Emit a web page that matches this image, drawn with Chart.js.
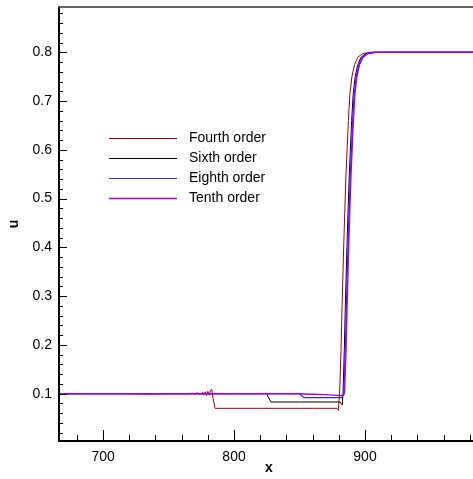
<!DOCTYPE html>
<html>
<head>
<meta charset="utf-8">
<script src="https://cdn.jsdelivr.net/npm/chart.js@4.4.0/dist/chart.umd.min.js"></script>
<style>
  html, body { margin: 0; padding: 0; background: #fff; overflow: hidden; }
  #wrap { width: 473px; height: 479px; overflow: hidden; }
</style>
</head>
<body>
<div id="wrap"><canvas id="uChart" width="480" height="479"></canvas></div>
<script>
// values
const seriesNames = ['Fourth order', 'Sixth order', 'Eighth order', 'Tenth order'];

const fourthX = [665, 700, 740, 765, 768, 770, 772, 774, 776, 777, 778, 779, 780, 781, 782, 783, 784, 785.5, 820, 860, 878.5, 879.6, 880.6, 881.7, 882.5, 883.5, 884.5, 885.5, 886.5, 887.3, 888.5, 890, 892, 894.5, 898, 904, 930, 990];
const fourthU = [0.1, 0.1, 0.1, 0.1, 0.101, 0.099, 0.102, 0.098, 0.103, 0.097, 0.104, 0.096, 0.105, 0.097, 0.106, 0.109, 0.09, 0.07, 0.07, 0.07, 0.07, 0.066, 0.1, 0.19, 0.28, 0.38, 0.47, 0.55, 0.61, 0.66, 0.715, 0.75, 0.775, 0.79, 0.797, 0.8, 0.8, 0.8];

const sixthX = [665, 720, 760, 800, 822, 824.5, 826, 828.2, 850, 881, 882.6, 883.2, 884.2, 885, 886, 887, 888, 889, 889.8, 891, 892.5, 894.5, 897, 900.5, 906, 930, 990];
const sixthU = [0.1, 0.1, 0.1, 0.1, 0.1, 0.101, 0.094, 0.083, 0.083, 0.083, 0.077, 0.1, 0.19, 0.28, 0.38, 0.47, 0.55, 0.61, 0.66, 0.715, 0.75, 0.775, 0.79, 0.797, 0.8, 0.8, 0.8];

const eighthX = [665, 720, 760, 800, 840, 849.8, 853.4, 870, 882.4, 883.8, 885, 885.8, 886.8, 887.8, 888.8, 889.8, 890.6, 891.8, 893.3, 895.3, 898, 901.5, 907, 930, 990];
const eighthU = [0.1, 0.1, 0.1, 0.1, 0.1, 0.1, 0.092, 0.092, 0.092, 0.1, 0.19, 0.28, 0.38, 0.47, 0.55, 0.61, 0.66, 0.715, 0.75, 0.775, 0.79, 0.797, 0.8, 0.8, 0.8];

const tenthX = [665, 720, 735, 750, 800, 850, 860, 870, 882, 884.3, 885.5, 886.3, 887.3, 888.3, 889.3, 890.3, 891.1, 892.3, 893.8, 895.8, 898.5, 902, 908, 930, 990];
const tenthU = [0.1, 0.1, 0.0995, 0.1, 0.1, 0.1, 0.099, 0.098, 0.096, 0.1, 0.19, 0.28, 0.38, 0.47, 0.55, 0.61, 0.66, 0.715, 0.75, 0.775, 0.79, 0.797, 0.8, 0.8, 0.8];

const xTicks = [700, 800, 900];
const yTicks = [0.1, 0.2, 0.3, 0.4, 0.5, 0.6, 0.7, 0.8];
const xMinor = [680, 720, 740, 760, 780, 820, 840, 860, 880, 920, 940, 960, 980];
const yMinor = [0.02, 0.04, 0.06, 0.08, 0.12, 0.14, 0.16, 0.18, 0.22, 0.24, 0.26, 0.28, 0.32, 0.34, 0.36, 0.38,
                0.42, 0.44, 0.46, 0.48, 0.52, 0.54, 0.56, 0.58, 0.62, 0.64, 0.66, 0.68, 0.72, 0.74, 0.76, 0.78,
                0.82, 0.84, 0.86, 0.88];

function pairs(xs, ys) {
    return xs.map((x, i) => ({ x: x, y: ys[i] }));
}

const colors = ['#a00000', '#000000', '#2a2aff', '#a400f0'];
const widths = [1, 1, 1.2, 1.4];
const orders = [3, 2, 1, 0];
const allData = [pairs(fourthX, fourthU), pairs(sixthX, sixthU), pairs(eighthX, eighthU), pairs(tenthX, tenthU)];

const fontFamily = '"Liberation Sans", Arial, Helvetica, sans-serif';

// frame, inward ticks and the legend inside the plot
const framePlugin = {
    id: 'frame',
    afterDraw(chart) {
        const ctx = chart.ctx;
        const area = chart.chartArea;
        const xs = chart.scales.x;
        const ys = chart.scales.y;
        ctx.save();
        ctx.strokeStyle = '#000';

        ctx.lineWidth = 1;
        xTicks.forEach(v => {
            const px = Math.round(xs.getPixelForValue(v)) + 0.5;
            ctx.beginPath(); ctx.moveTo(px, area.bottom); ctx.lineTo(px, area.bottom - 11); ctx.stroke();
        });
        xMinor.forEach(v => {
            const px = Math.round(xs.getPixelForValue(v)) + 0.5;
            ctx.beginPath(); ctx.moveTo(px, area.bottom); ctx.lineTo(px, area.bottom - 6); ctx.stroke();
        });
        yTicks.forEach(v => {
            const py = Math.round(ys.getPixelForValue(v)) + 0.5;
            ctx.beginPath(); ctx.moveTo(area.left, py); ctx.lineTo(area.left + 9, py); ctx.stroke();
        });
        yMinor.forEach(v => {
            const py = Math.round(ys.getPixelForValue(v)) + 0.5;
            ctx.beginPath(); ctx.moveTo(area.left, py); ctx.lineTo(area.left + 5, py); ctx.stroke();
        });

        ctx.lineWidth = 2;
        ctx.beginPath();
        ctx.moveTo(area.left + 1, area.top);
        ctx.lineTo(area.left + 1, area.bottom);
        ctx.moveTo(area.left, area.bottom);
        ctx.lineTo(area.right, area.bottom);
        ctx.stroke();
        ctx.lineWidth = 1.5;
        ctx.strokeStyle = '#333';
        ctx.beginPath();
        ctx.moveTo(area.left, area.top);
        ctx.lineTo(area.right, area.top);
        ctx.stroke();

        // legend
        ctx.font = '14px ' + fontFamily;
        ctx.textBaseline = 'middle';
        ctx.textAlign = 'left';
        chart.data.datasets.forEach((ds, i) => {
            const y = 138.5 + i * 20;
            ctx.strokeStyle = ds.borderColor;
            ctx.lineWidth = ds.borderWidth;
            ctx.beginPath(); ctx.moveTo(109, y); ctx.lineTo(177, y); ctx.stroke();
            ctx.fillStyle = '#000';
            ctx.fillText(ds.label, 189, y);
        });
        ctx.restore();
    }
};

const ctx = document.getElementById('uChart').getContext('2d');
const uChart = new Chart(ctx, {
    type: 'line',
    data: {
        datasets: seriesNames.map((name, i) => ({
            label: name,
            data: allData[i],
            borderColor: colors[i],
            backgroundColor: colors[i],
            borderWidth: widths[i],
            pointRadius: 0,
            tension: 0,
            fill: false,
            order: orders[i]
        }))
    },
    options: {
        responsive: false,
        animation: false,
        events: [],
        layout: { padding: { top: 0, left: 0, right: 0, bottom: 0 } },
        plugins: {
            legend: { display: false },
            tooltip: { enabled: false }
        },
        scales: {
            x: {
                type: 'linear',
                min: 665.6,
                max: 987.8,
                afterFit(scale) { scale.height = 38; },
                afterBuildTicks(scale) { scale.ticks = xTicks.map(v => ({ value: v })); },
                grid: { display: false, drawTicks: false, tickLength: 0 },
                border: { display: false },
                ticks: {
                    color: '#000',
                    padding: 8,
                    maxRotation: 0,
                    font: { family: fontFamily, size: 14 }
                },
                title: {
                    display: true,
                    text: 'x',
                    color: '#000',
                    padding: { top: 0, bottom: 2 },
                    font: { family: fontFamily, size: 14, weight: 'bold' }
                }
            },
            y: {
                type: 'linear',
                min: 0.003,
                max: 0.8929,
                afterFit(scale) {
                    scale.width = 58;
                    scale.paddingTop = 7;
                },
                afterBuildTicks(scale) { scale.ticks = yTicks.map(v => ({ value: v })); },
                grid: { display: false, drawTicks: false, tickLength: 0 },
                border: { display: false },
                ticks: {
                    color: '#000',
                    padding: 6,
                    font: { family: fontFamily, size: 14 },
                    callback: v => v.toFixed(1)
                },
                title: {
                    display: true,
                    text: 'u',
                    color: '#000',
                    padding: { top: 6, bottom: 0 },
                    font: { family: fontFamily, size: 14, weight: 'bold' }
                }
            }
        }
    },
    plugins: [framePlugin]
});
</script>
</body>
</html>
